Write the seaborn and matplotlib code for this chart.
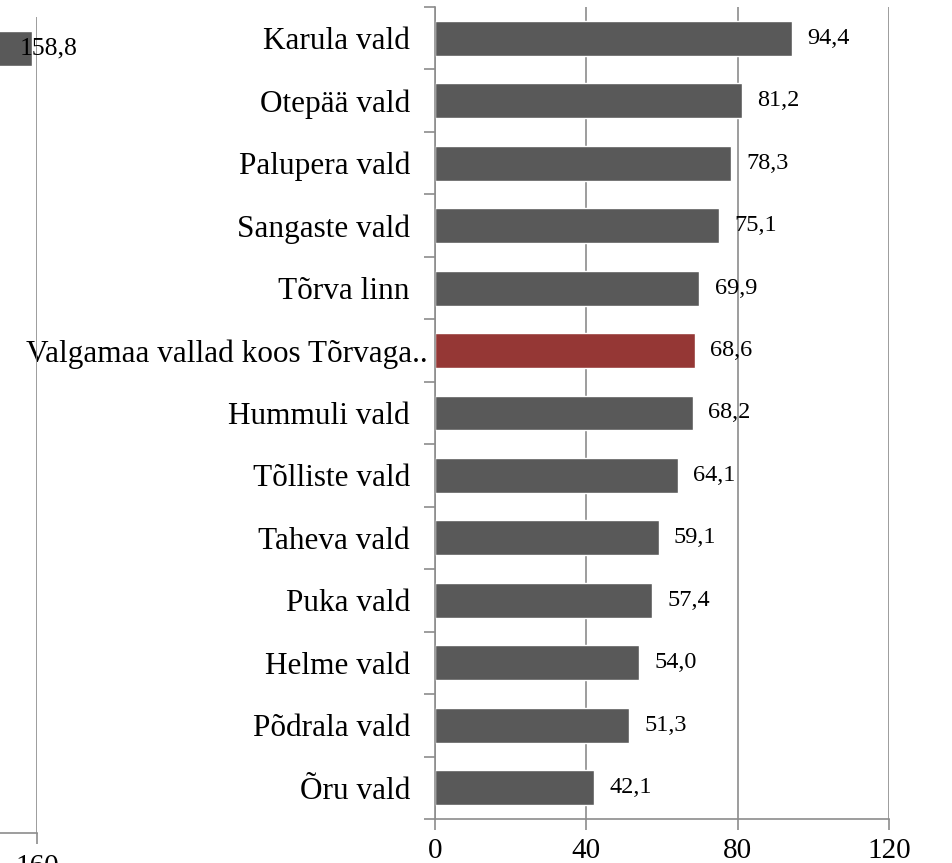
import matplotlib
matplotlib.use('Agg')
import matplotlib.pyplot as plt
import matplotlib.transforms as mtransforms
import seaborn as sns
import pandas as pd
from matplotlib.ticker import FixedLocator

#values (Valga linn sits on its own broken-off axis at the left)
categories = ['Karula vald', 'Otepää vald', 'Palupera vald', 'Sangaste vald', 'Tõrva linn',
              'Valgamaa vallad koos Tõrvaga..', 'Hummuli vald', 'Tõlliste vald', 'Taheva vald',
              'Puka vald', 'Helme vald', 'Põdrala vald', 'Õru vald']
values = [94.4, 81.2, 78.3, 75.1, 69.9, 68.6, 68.2, 64.1, 59.1, 57.4, 54.0, 51.3, 42.1]
highlight = 'Valgamaa vallad koos Tõrvaga..'

left_categories = ['Valga linn']
left_values = [158.8]

x_ticks = [0, 40, 80, 120]
left_x_ticks = [120, 160]

sns.set_style('white')
plt.rcParams['font.family'] = ['Liberation Serif', 'DejaVu Serif']
plt.rcParams['text.color'] = 'black'

grid_col = '#8c8c8c'
bar_col = '#595959'
red_col = '#953735'

fig = plt.figure(figsize=(9.53, 8.63), dpi=100)

#main axes
ax = fig.add_axes([435/953, 44/863, 454/953, 812/863])
df = pd.DataFrame({'cat': categories, 'val': values})
palette = {c: (red_col if c == highlight else bar_col) for c in categories}
sns.barplot(data=df, y='cat', x='val', hue='cat', palette=palette, order=categories,
            width=0.56, legend=False, saturation=1, ax=ax)
ax.set_xlim(0, 120)
ax.set_ylim(len(categories) - 0.5, -0.5)
ax.set_xticks(x_ticks)
ax.set_xticklabels([str(t) for t in x_ticks], fontsize=21)
ax.set_ylabel('')
ax.set_xlabel('')
ax.tick_params(axis='y', which='major', length=0, pad=18, labelsize=22.5, labelcolor='black')
ax.yaxis.set_minor_locator(FixedLocator([i - 0.5 for i in range(len(categories) + 1)]))
ax.tick_params(axis='y', which='minor', length=8, width=1.2, color=grid_col, left=True)
ax.tick_params(axis='x', length=8, width=1.2, color=grid_col, bottom=True, pad=6,
               labelcolor='black')
ax.grid(axis='x', color=grid_col, linewidth=1.2)
ax.set_axisbelow(True)
for s in ['top', 'right']:
    ax.spines[s].set_visible(False)
for s in ['left', 'bottom']:
    ax.spines[s].set_color(grid_col)
    ax.spines[s].set_linewidth(1.2)
for cont in ax.containers:
    ax.bar_label(cont, labels=[f'{v:.1f}'.replace('.', ',') for v in cont.datavalues],
                 padding=11, fontsize=17.5, color='black')

#the truncated label runs further right, up to the tick marks
shift = mtransforms.ScaledTranslation(18/100, 0, fig.dpi_scale_trans)
for lab in ax.get_yticklabels():
    if lab.get_text() == highlight:
        lab.set_transform(lab.get_transform() + shift)

#broken-off left axes, mostly outside the figure
ax2 = fig.add_axes([-568/953, 30/863, 605/953, 816/863])
ax2.patch.set_visible(False)
ldf = pd.DataFrame({'cat': left_categories, 'val': left_values})
sns.barplot(data=ldf, y='cat', x='val', color=bar_col, width=0.56, saturation=1, ax=ax2)
ax2.set_xlim(0, 160)
ax2.set_ylim(len(categories) - 0.5, -0.5)
ax2.set_xticks(left_x_ticks)
ax2.set_xticklabels([str(t) for t in left_x_ticks], fontsize=21)
ax2.set_yticks([])
ax2.set_ylabel('')
ax2.set_xlabel('')
ax2.tick_params(axis='x', length=8, width=1.2, color=grid_col, bottom=True, pad=7,
                labelcolor='black')
ax2.grid(axis='x', color=grid_col, linewidth=1.2)
ax2.set_axisbelow(True)
for s in ['top', 'right', 'left']:
    ax2.spines[s].set_visible(False)
ax2.spines['bottom'].set_color(grid_col)
ax2.spines['bottom'].set_linewidth(1.2)
for cont in ax2.containers:
    ax2.bar_label(cont, labels=[f'{v:.1f}'.replace('.', ',') for v in cont.datavalues],
                  padding=-9, fontsize=18.5, color='black')

fig.savefig('out.png', dpi=100)
